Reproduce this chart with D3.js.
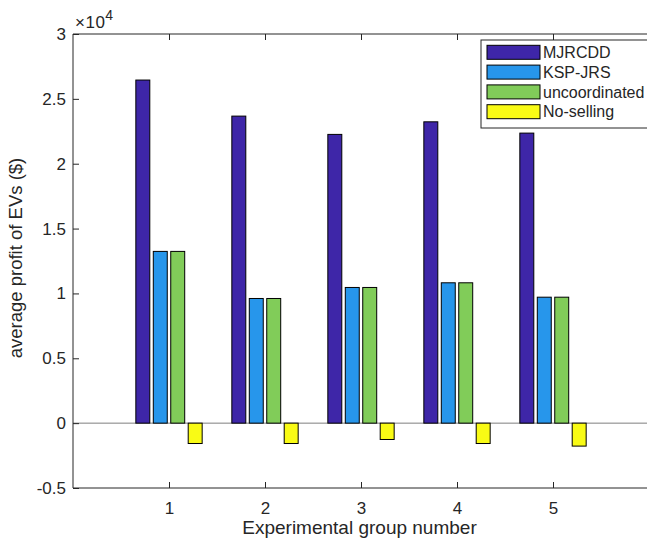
<!DOCTYPE html>
<html>
<head>
<meta charset="utf-8">
<script src="https://cdn.jsdelivr.net/npm/d3@7"></script>
<style>
  body { margin: 0; background: #fff; }
  text { font-family: "Liberation Sans", Arial, sans-serif; fill: #262626; }
</style>
</head>
<body>
<svg id="chart" width="647" height="546"></svg>
<script>
// data
const groups = [1, 2, 3, 4, 5];
const seriesNames = ["MJRCDD", "KSP-JRS", "uncoordinated", "No-selling"];
const mjrcdd = [26450, 23670, 22260, 23230, 22360];
const kspJrs = [13240, 9610, 10460, 10820, 9710];
const uncoordinated = [13240, 9610, 10460, 10820, 9710];
const noSelling = [-1570, -1570, -1260, -1570, -1770];
const yTicks = [-0.5, 0, 0.5, 1, 1.5, 2, 2.5, 3];
const xTicks = [1, 2, 3, 4, 5];

// parula colours, as matlab gives for 4 series
const colors = ["#3e26a8", "#2796eb", "#81cc59", "#f9fb15"];
const allSeries = [mjrcdd, kspJrs, uncoordinated, noSelling];

const svg = d3.select("#chart");
const margin = { top: 34, left: 73, bottom: 58 };
const width = 576;   // axes run past the right edge of the picture
const height = 546 - margin.top - margin.bottom;
const g = svg.append("g").attr("transform", `translate(${margin.left},${margin.top})`);

const x = d3.scaleLinear().domain([0, 6]).range([0, width]);
const y = d3.scaleLinear().domain([-0.5, 3]).range([height, 0]);

// grouped bars like matlab: group width 4/(4+1.5) of a unit
const groupW = x(4 / 5.5) - x(0);
const x1 = d3.scaleBand()
  .domain(seriesNames)
  .range([-groupW / 2, groupW / 2])
  .paddingInner(0.2)
  .paddingOuter(0.1);

const tickLen = 6;
const axisColor = "#262626";

// zero baseline
g.append("line")
  .attr("x1", 0).attr("x2", width)
  .attr("y1", y(0)).attr("y2", y(0))
  .attr("stroke", "#7f7f7f").attr("stroke-width", 1);

// bars
seriesNames.forEach((name, si) => {
  g.selectAll(".bar-" + si)
    .data(groups.map((grp, i) => ({ grp, v: allSeries[si][i] / 1e4 })))
    .enter()
    .append("rect")
    .attr("class", "bar-" + si)
    .attr("x", d => x(d.grp) + x1(name))
    .attr("width", x1.bandwidth())
    .attr("y", d => y(Math.max(0, d.v)))
    .attr("height", d => Math.abs(y(d.v) - y(0)))
    .attr("fill", colors[si])
    .attr("stroke", "#000")
    .attr("stroke-width", 1);
});

// box
g.append("line").attr("x1", 0).attr("x2", 0).attr("y1", 0).attr("y2", height)
  .attr("stroke", axisColor);
g.append("line").attr("x1", 0).attr("x2", width).attr("y1", 0).attr("y2", 0)
  .attr("stroke", axisColor);
g.append("line").attr("x1", 0).attr("x2", width).attr("y1", height).attr("y2", height)
  .attr("stroke", axisColor);

// y axis (ticks inward)
const yAxis = d3.axisLeft(y).tickValues(yTicks).tickSize(-tickLen).tickPadding(7)
  .tickFormat(d => String(d));
g.append("g").call(yAxis)
  .call(a => {
    a.select(".domain").remove();
    a.selectAll(".tick line").attr("stroke", axisColor);
    a.selectAll(".tick text").attr("font-size", 17).attr("fill", axisColor)
      .style("font-family", "Liberation Sans, Arial, sans-serif");
  });

// x axis bottom + top tick marks
const xAxis = d3.axisBottom(x).tickValues(xTicks).tickSize(-tickLen).tickPadding(14)
  .tickFormat(d => String(d));
g.append("g").attr("transform", `translate(0,${height})`).call(xAxis)
  .call(a => {
    a.select(".domain").remove();
    a.selectAll(".tick line").attr("stroke", axisColor);
    a.selectAll(".tick text").attr("font-size", 17).attr("fill", axisColor)
      .style("font-family", "Liberation Sans, Arial, sans-serif");
  });
g.append("g").call(d3.axisTop(x).tickValues(xTicks).tickSize(-tickLen).tickFormat(""))
  .call(a => {
    a.select(".domain").remove();
    a.selectAll(".tick line").attr("stroke", axisColor);
  });

// exponent label
const expo = g.append("text").attr("x", 2).attr("y", -6)
  .attr("font-size", 17).attr("letter-spacing", 0.5);
expo.append("tspan").text("×10");
expo.append("tspan").attr("font-size", 14).attr("dy", -8).text("4");

// axis titles
svg.append("text")
  .attr("x", margin.left + (648 - margin.left) / 2 - 1)
  .attr("y", 534)
  .attr("text-anchor", "middle")
  .attr("font-size", 19)
  .text("Experimental group number");

svg.append("text")
  .attr("transform", `translate(22,258) rotate(-90)`)
  .attr("text-anchor", "middle")
  .attr("font-size", 18.5)
  .text("average profit of EVs ($)");

// legend
const leg = svg.append("g").attr("transform", "translate(481,40)");
leg.append("rect")
  .attr("x", 0).attr("y", 0).attr("width", 180).attr("height", 88)
  .attr("fill", "#fff").attr("stroke", "#262626").attr("stroke-width", 1);
seriesNames.forEach((name, i) => {
  const row = leg.append("g").attr("transform", `translate(6,${12.3 + i * 19.8})`);
  row.append("rect")
    .attr("x", 0).attr("y", -7).attr("width", 53).attr("height", 14)
    .attr("fill", colors[i]).attr("stroke", "#000");
  row.append("text")
    .attr("x", 56).attr("y", 0).attr("dy", "0.35em")
    .attr("font-size", 16)
    .text(name);
});
</script>
</body>
</html>
